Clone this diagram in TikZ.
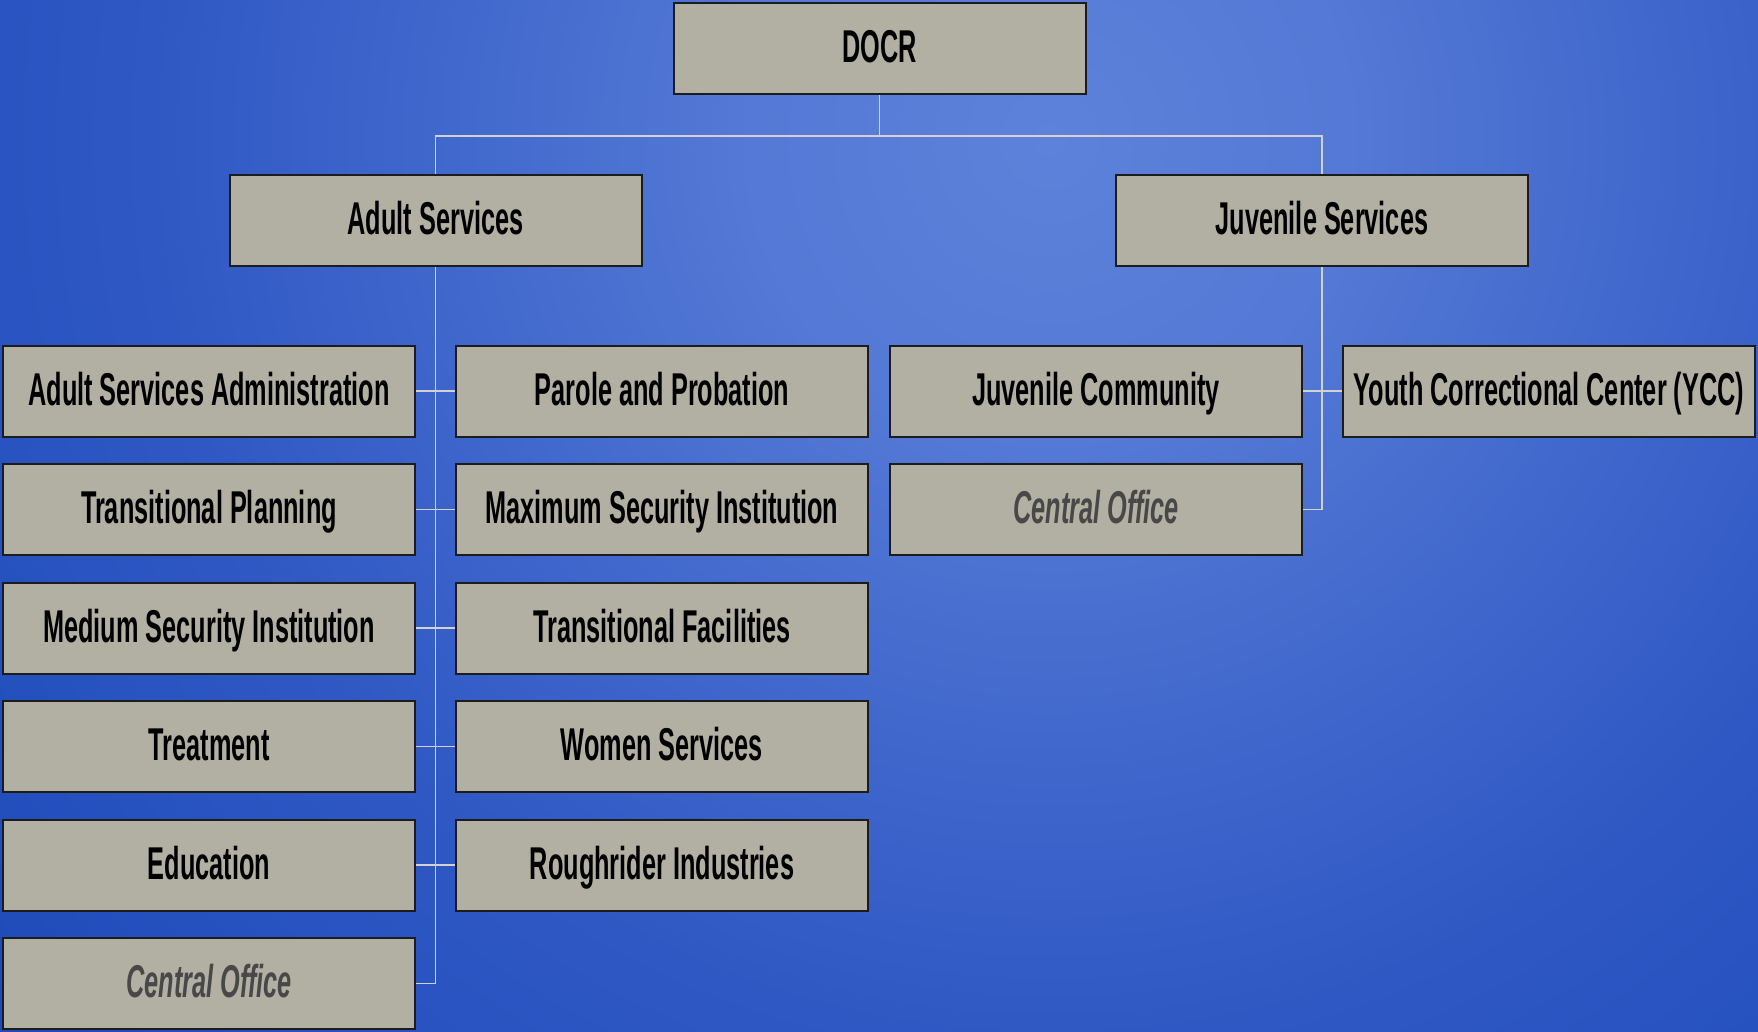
\documentclass[tikz,border=0pt]{standalone}
\usepackage{fontspec}
\newfontfamily\boxfont{Liberation Sans}[FakeStretch=0.55]
\definecolor{bgA}{RGB}{92,130,218}
\definecolor{bgB}{RGB}{84,121,214}
\definecolor{bgC}{RGB}{65,104,204}
\definecolor{bgD}{RGB}{48,88,196}
\definecolor{bgE}{RGB}{35,80,190}
\definecolor{bgF}{RGB}{28,70,178}
\definecolor{boxfill}{RGB}{177,176,162}
\definecolor{boxline}{RGB}{28,28,28}
\definecolor{connline}{RGB}{210,210,210}
\definecolor{cotext}{RGB}{72,72,72}
\pgfdeclareradialshading{bgshade}{\pgfpoint{0bp}{0bp}}{color(0bp)=(bgA); color(5bp)=(bgB); color(10bp)=(bgC); color(15bp)=(bgD); color(20bp)=(bgE); color(25bp)=(bgF); color(50bp)=(bgF)}
\begin{document}
\begin{tikzpicture}[x=1pt,y=-1pt,
  orgbox/.style={draw=boxline, line width=2pt, fill=boxfill, rectangle,
    minimum width=412pt, minimum height=91pt, inner sep=0pt,
    text height=38pt, text depth=10pt, text=black,
    font=\boxfont\bfseries\fontsize{46pt}{50pt}\selectfont},
  cobox/.style={orgbox, text=cotext, font=\boxfont\bfseries\itshape\fontsize{46pt}{50pt}\selectfont},
  conn/.style={draw=connline, line width=1.5pt}]
\useasboundingbox (0,0) rectangle (1758,1031);
\begin{scope}
  \clip (0,0) rectangle (1758,1031);
  \shade[shading=bgshade] (1050,140) circle (1500pt);
\end{scope}

% top levels
\node[orgbox] (docr) at (879.5,48.5) {DOCR};
\node[orgbox] (adult) at (435.5,220.5) {Adult Services};
\node[orgbox] (juv) at (1322,220.5) {Juvenile Services};

% adult column 1
\node[orgbox] (asa) at (209,391) {Adult Services Administration};
\node[orgbox] (tp)  at (209,509.5) {Transitional Planning};
\node[orgbox] (msi) at (209,628) {Medium Security Institution};
\node[orgbox] (trt) at (209,746.5) {Treatment};
\node[orgbox] (edu) at (209,865) {Education};
\node[cobox]  (aco) at (209,983.5) {Central Office};

% adult column 2
\node[orgbox] (pp)  at (662,391) {Parole and Probation};
\node[orgbox] (max) at (662,509.5) {Maximum Security Institution};
\node[orgbox] (tf)  at (662,628) {Transitional Facilities};
\node[orgbox] (ws)  at (662,746.5) {Women Services};
\node[orgbox] (ri)  at (662,865) {Roughrider Industries};

% juvenile
\node[orgbox] (jc)  at (1096,391) {Juvenile Community};
\node[cobox]  (jco) at (1096,509.5) {Central Office};
\node[orgbox] (ycc) at (1549,391) {Youth Correctional Center (YCC)};

% connectors
\coordinate (split) at (879.5,136);
\draw[conn] (docr.south) -- (split);
\draw[conn] (split) -| (adult.north);
\draw[conn] (split) -| (juv.north);

\draw[conn] (adult.south) |- (aco.east);
\draw[conn] (asa.east) -- (pp.west);
\draw[conn] (tp.east) -- (max.west);
\draw[conn] (msi.east) -- (tf.west);
\draw[conn] (trt.east) -- (ws.west);
\draw[conn] (edu.east) -- (ri.west);

\draw[conn] (juv.south) |- (jco.east);
\draw[conn] (jc.east) -- (ycc.west);
\end{tikzpicture}
\end{document}
